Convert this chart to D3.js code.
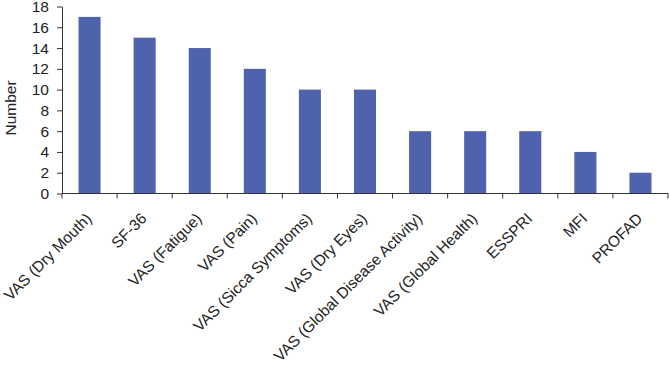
<!DOCTYPE html>
<html>
<head>
<meta charset="utf-8">
<script src="https://cdn.jsdelivr.net/npm/d3@7"></script>
<style>
  body { margin: 0; background: #fff; }
  svg { display: block; font-family: "Liberation Sans", Arial, sans-serif; }
</style>
</head>
<body>
<svg id="chart"></svg>
<script>
const categories = [
  "VAS (Dry Mouth)", "SF-36", "VAS (Fatigue)", "VAS (Pain)",
  "VAS (Sicca Symptoms)", "VAS (Dry Eyes)", "VAS (Global Disease Activity)",
  "VAS (Global Health)", "ESSPRI", "MFI", "PROFAD"
];
const values = [17, 15, 14, 12, 10, 10, 6, 6, 6, 4, 2];
const yTicks = [0, 2, 4, 6, 8, 10, 12, 14, 16, 18];

const width = 669, height = 365;
const margin = { top: 6.5, right: 1, bottom: 171.5, left: 62 };

const svg = d3.select("#chart").attr("width", width).attr("height", height);

const x = d3.scaleBand()
  .domain(categories)
  .range([margin.left, width - margin.right])
  .padding(0);

const y = d3.scaleLinear()
  .domain([0, 18])
  .range([height - margin.bottom, margin.top]);

const barW = x.bandwidth() * 0.4;

// bars
svg.append("g")
  .selectAll("rect")
  .data(values)
  .join("rect")
  .attr("x", (d, i) => x(categories[i]) + (x.bandwidth() - barW) / 2)
  .attr("y", d => y(d))
  .attr("width", barW)
  .attr("height", d => y(0) - y(d))
  .attr("fill", "#4f62ae");

// y axis
const yAxis = svg.append("g")
  .attr("transform", `translate(${margin.left},0)`)
  .call(d3.axisLeft(y).tickValues(yTicks).tickSize(5).tickSizeOuter(0));
yAxis.select(".domain").attr("stroke", "#333");
yAxis.selectAll(".tick line").attr("stroke", "#333");
yAxis.selectAll(".tick text")
  .attr("x", -13)
  .attr("font-size", 15.5)
  .attr("fill", "#222");

// x axis: ticks at band boundaries
const xAxisG = svg.append("g").attr("transform", `translate(0,${y(0)})`);
xAxisG.append("line")
  .attr("x1", x.range()[0]).attr("x2", x.range()[1])
  .attr("stroke", "#333");
const bounds = categories.map(c => x(c)).concat([x.range()[1]]);
xAxisG.selectAll("line.tk")
  .data(bounds)
  .join("line")
  .attr("class", "tk")
  .attr("x1", d => d).attr("x2", d => d)
  .attr("y1", 0).attr("y2", 5)
  .attr("stroke", "#333");

svg.append("g")
  .selectAll("text")
  .data(categories)
  .join("text")
  .attr("transform", d => `translate(${x(d) + x.bandwidth() / 2 + 3},${y(0) + 26}) rotate(-45)`)
  .attr("text-anchor", "end")
  .attr("font-size", 15.5)
  .attr("fill", "#222")
  .text(d => d);

// y label
svg.append("text")
  .attr("transform", `translate(16,${(y(0) + y(18)) / 2 + 8}) rotate(-90)`)
  .attr("text-anchor", "middle")
  .attr("font-size", 15.5)
  .attr("fill", "#222")
  .text("Number");
</script>
</body>
</html>
